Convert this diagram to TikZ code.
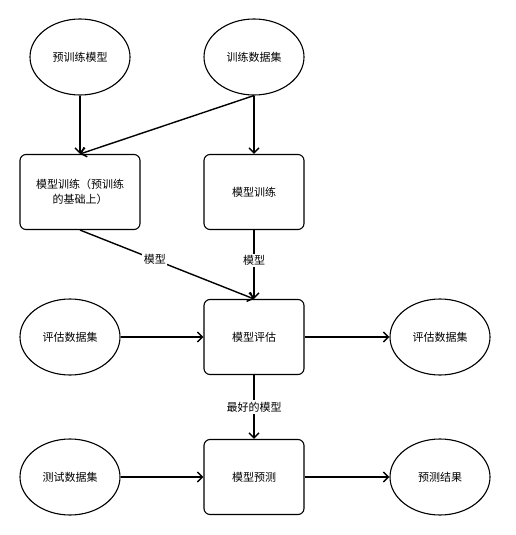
\documentclass[tikz,border=0pt]{standalone}
\usepackage{fontspec}
\newfontfamily\cjk{Noto Sans CJK SC}
\usetikzlibrary{shapes.geometric,arrows.meta}
\begin{document}
\begin{tikzpicture}[x=1pt,y=-1pt,>={Straight Barb[length=5pt,width=10pt]},
	data/.style={draw,ellipse,line width=1.1pt,minimum width=100pt,minimum height=76pt,inner sep=0pt,font=\cjk\fontsize{11}{15}\selectfont},
	proc/.style={draw,rounded corners=6pt,line width=1.1pt,minimum width=100pt,minimum height=75pt,align=center,font=\cjk\fontsize{11}{15}\selectfont},
	lbl/.style={fill=white,inner sep=1.5pt,font=\cjk\fontsize{11}{15}\selectfont},
	flow/.style={->,line width=1.4pt}]
	\useasboundingbox (0,0) rectangle (516,535);
	% inputs
	\node[data] (pre) at (80,57) {预训练模型};
	\node[data] (train) at (254,57) {训练数据集};
	\node[data] (evaldata) at (70,337) {评估数据集};
	\node[data] (evalout) at (440,337) {评估数据集};
	\node[data] (test) at (70,477) {测试数据集};
	\node[data] (result) at (440,477) {预测结果};
	% steps
	\node[proc,minimum width=120pt] (finetune) at (80,192) {模型训练（预训练\\的基础上）};
	\node[proc] (fit) at (254,192) {模型训练};
	\node[proc] (eval) at (254,337) {模型评估};
	\node[proc] (predict) at (254,477) {模型预测};
	% edges
	\draw[flow] (pre) -- (finetune);
	\draw[flow] (train.south) -- (finetune.north);
	\draw[flow] (train) -- (fit);
	\draw[flow] (finetune.south) -- node[lbl,pos=0.43]{模型} (eval.north);
	\draw[flow] (fit) -- node[lbl,pos=0.44]{模型} (eval);
	\draw[flow] (evaldata) -- (eval);
	\draw[flow] (eval) -- (evalout);
	\draw[flow] (eval) -- node[lbl]{最好的模型} (predict);
	\draw[flow] (test) -- (predict);
	\draw[flow] (predict) -- (result);
\end{tikzpicture}
\end{document}
